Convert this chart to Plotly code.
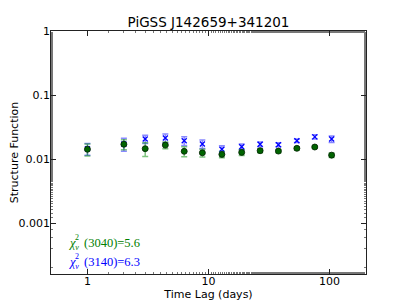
import numpy as np
import plotly.graph_objects as go

# Data
lags = [1.0, 2.0, 3.0, 4.4, 6.3, 8.9, 12.9, 18.8, 26.7, 37.8, 53.7, 75.5, 104.0]
sf_3040 = [0.0142, 0.0170, 0.0145, 0.0165, 0.0132, 0.0125, 0.0118, 0.0127, 0.0135, 0.0133, 0.0147, 0.0154, 0.0115]
err_3040 = [0.0030, 0.0030, 0.0035, 0.0020, 0.0023, 0.0017, 0.0013, 0.0013, 0.0010, 0.0008, 0.0008, 0.0006, 0.0009]
sf_3140 = [0.0145, 0.0172, 0.0205, 0.0213, 0.0193, 0.0172, 0.0142, 0.0156, 0.0170, 0.0167, 0.0193, 0.0222, 0.0205]
err_3140 = [0.0030, 0.0040, 0.0030, 0.0033, 0.0030, 0.0026, 0.0019, 0.0016, 0.0014, 0.0012, 0.0012, 0.0017, 0.0024]

chi_labels = ["(3040)", "(3140)"]
chi_values = [5.6, 6.3]

title = "PiGSS J142659+341201"
y_tickvals = [0.001, 0.01, 0.1, 1]
y_ticktext = ["0.001", "0.01", "0.1", "1"]
x_tickvals = [1, 10, 100]
x_ticktext = ["1", "10", "100"]

fig = go.Figure()

fig.add_trace(go.Scatter(
    x=lags, y=sf_3140, mode="markers",
    marker=dict(symbol="x-thin", size=5, color="#0000ff", line=dict(color="#0000ff", width=1.3)),
    error_y=dict(type="data", array=err_3140, visible=True, color="rgba(40,40,255,0.55)",
                 thickness=1.5, width=3),
    showlegend=False,
))
fig.add_trace(go.Scatter(
    x=lags, y=sf_3040, mode="markers",
    marker=dict(symbol="circle", size=6, color="#006400", line=dict(color="#002000", width=0.8)),
    error_y=dict(type="data", array=err_3040, visible=True, color="rgba(0,140,0,0.5)",
                 thickness=1.5, width=3),
    showlegend=False,
))

# chi-square annotations, built from pieces: chi, stacked 2 / nu, and the rest
colors = ["#008000", "#0000ff"]
ypos = [0.1276, 0.049]
for lab, val, col, yp in zip(chi_labels, chi_values, colors, ypos):
    fig.add_annotation(
        x=0.0667, y=yp, xref="paper", yref="paper", xanchor="center", yanchor="middle",
        text="<i>χ</i>", borderpad=0,
        showarrow=False, font=dict(family="Liberation Serif", size=12.5, color=col),
    )
    fig.add_annotation(
        x=0.0835, y=yp, xref="paper", yref="paper", xanchor="center", yanchor="middle",
        text="2<br><i>ν</i>", align="center", borderpad=0, yshift=0.5,
        showarrow=False, font=dict(family="Liberation Serif", size=8, color=col),
    )
    fig.add_annotation(
        x=0.1016, y=yp, xref="paper", yref="paper", xanchor="left", yanchor="middle",
        text=f"{lab}={val}", borderpad=0,
        showarrow=False, font=dict(family="Liberation Serif", size=12.5, color=col),
    )

axis_common = dict(
    type="log", showline=True, linecolor="#222222", linewidth=0.8, mirror="allticks",
    ticks="inside", ticklen=5, tickwidth=0.8, tickcolor="#222222", showgrid=False, zeroline=False,
    automargin=False,
    tickfont=dict(family="DejaVu Sans", size=11, color="black"),
    minor=dict(ticks="inside", ticklen=2.5, tickwidth=0.8, tickcolor="#777777", showgrid=False),
)

fig.update_xaxes(
    **axis_common, range=[np.log10(0.5), np.log10(200)],
    tickvals=x_tickvals, ticktext=x_ticktext, ticklabelstandoff=-3,
    title=dict(text="Time Lag (days)", font=dict(family="DejaVu Sans", size=11, color="black"), standoff=0),
)
fig.update_yaxes(
    **axis_common, range=[np.log10(1.6e-4), 0],
    tickvals=y_tickvals, ticktext=y_ticktext, ticklabelstandoff=-2,
    title=dict(text="Structure Function", font=dict(family="DejaVu Sans", size=11, color="black"), standoff=3),
)

# page body has an 8px margin, so the figure is sized/positioned to compensate
W, H = 399, 297
fig.update_layout(
    width=W, height=H,
    margin=dict(l=43, r=41, t=23, b=31, autoexpand=False),
    paper_bgcolor="white", plot_bgcolor="white",
    title=dict(text=title, x=(43 + (W - 41)) / 2 / W, xref="container", xanchor="center",
               y=1 - 14.5 / H, yref="container", yanchor="middle", automargin=False,
               font=dict(family="DejaVu Sans", size=13.5, color="black")),
)

fig.write_html("out.html")
